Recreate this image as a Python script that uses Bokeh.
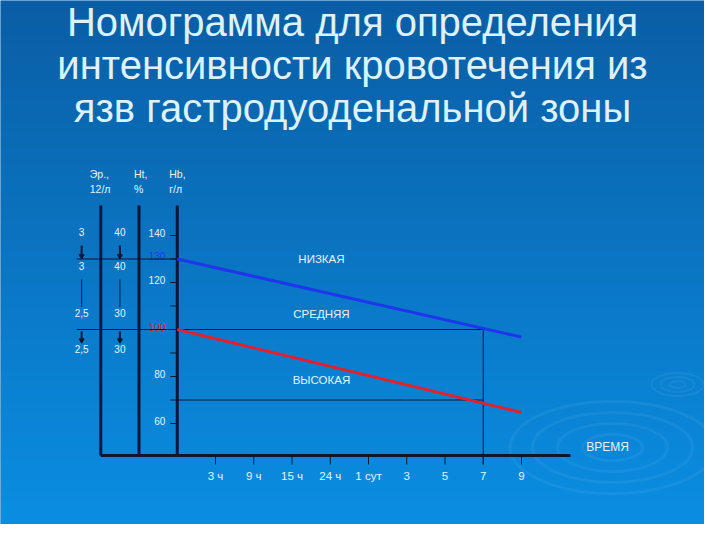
import numpy as np
from bokeh.plotting import figure
from bokeh.models import Range1d
from bokeh.core.properties import value
from bokeh.embed import file_html
from bokeh.resources import INLINE

# ---------------- data ----------------
title_lines = ["Номограмма для определения",
               "интенсивности кровотечения из",
               "язв гастродуоденальной зоны"]
time_labels = ["3 ч", "9 ч", "15 ч", "24 ч", "1 сут", "3", "5", "7", "9"]
time_pos = [0, 1, 2, 3, 4, 5, 6, 7, 8]
hb_ticks = [140, 130, 120, 110, 100, 90, 80, 70, 60]
hb_tick_labels = ["140", "130", "120", "", "100", "", "80", "", "60"]
erythro_labels = ["3", "3", "2,5", "2,5"]
ht_labels = ["40", "40", "30", "30"]
row_hb = [141.3, 127.2, 107.2, 91.5]
header_top = ["Эр.,", "Ht,", "Hb,"]
header_bottom = ["12/л", "%", "г/л"]
zone_labels = ["НИЗКАЯ", "СРЕДНЯЯ", "ВЫСОКАЯ"]
zone_hb = [129.8, 106.4, 78.7]
blue_t = [-1, 8]
blue_hb = [130, 96.8]
red_t = [-1, 8]
red_hb = [100, 64.7]
hb_upper = 130
hb_middle = 100
hb_lower = 70
t_cut = 7
axis_label = "ВРЕМЯ"

# ---------------- layout ----------------
W, H = 704, 524
SX, SY = 38.25, 2.35          # px per time step, px per g/l
X0 = -215 / SX
X1 = (W - 215) / SX
Y1 = 140 + 235 / SY
Y0 = 140 - (H - 235) / SY

TXT = "#E2F4FF"
DARK = "#0A1634"
FONT = value("Liberation Sans")

col_x = [-3, -2, -1]             # Эр, Ht, Hb column axes
hb_top, base_hb = 152.8, 46.4
left_x = -3.63
x_end = 9.28

p = figure(width=W, height=H, output_backend="svg", toolbar_location=None,
           x_range=Range1d(X0, X1), y_range=Range1d(Y0, Y1),
           min_border=0, x_axis_type=None, y_axis_type=None)
p.grid.visible = False
p.outline_line_color = None
p.background_fill_color = "#0B70BE"
p.border_fill_color = "#0B70BE"

# background gradient
N = 256
img = np.empty((N, 1), dtype=np.uint32)
v = img.view(dtype=np.uint8).reshape((N, 1, 4))
top = np.array([0x0B, 0x5E, 0xA5])
bot = np.array([0x0A, 0x8E, 0xE2])
for r in range(N):
    f = r / (N - 1)          # 0 bottom -> 1 top
    c = bot * (1 - f) + top * f
    v[r, 0, 0:3] = c.astype(np.uint8)
    v[r, 0, 3] = 255
p.image_rgba(image=[img], x=X0, y=Y0, dw=X1 - X0, dh=Y1 - Y0)

# ripples
p.ellipse(x=[10.38] * 4, y=[49.8] * 4, width=[60, 110, 160, 205], height=[26, 48, 70, 92],
          width_units="screen", height_units="screen", fill_color=None,
          line_color="#8FD0FF", line_alpha=0.09, line_width=3)
p.ellipse(x=[12.08] * 3, y=[76.6] * 3, width=[16, 34, 52], height=[7, 15, 23],
          width_units="screen", height_units="screen", fill_color=None,
          line_color="#8FD0FF", line_alpha=0.1, line_width=2)

# column axes
p.segment(x0=col_x, y0=[hb_top] * 3, x1=col_x, y1=[base_hb] * 3, line_color=DARK, line_width=3)
# time axis
p.segment(x0=[col_x[0]], y0=[base_hb], x1=[x_end], y1=[base_hb], line_color=DARK, line_width=3)
tick_len = 9 / SY
p.segment(x0=time_pos, y0=[base_hb] * 9, x1=time_pos, y1=[base_hb - tick_len] * 9,
          line_color=DARK, line_width=1)
p.text(x=time_pos, y=[base_hb - 21 / SY] * 9, text=time_labels, text_font=FONT,
       text_font_size="11.5px", text_color=TXT, text_align="center", text_baseline="middle")

# Hb ticks
hb_tick_colors = [TXT, "#2038F0", TXT, TXT, "#E8202A", TXT, TXT, TXT, TXT]
p.segment(x0=[col_x[2] - 7 / SX] * 9, y0=hb_ticks, x1=[col_x[2]] * 9, y1=hb_ticks,
          line_color=DARK, line_width=1)
p.text(x=[col_x[2]] * 9, y=hb_ticks, text=hb_tick_labels, x_offset=-12, y_offset=-3,
       text_font=FONT, text_font_size="10px", text_color=hb_tick_colors,
       text_align="right", text_baseline="middle")

# threshold lines
p.segment(x0=[left_x], y0=[hb_upper], x1=[col_x[2]], y1=[hb_upper], line_color=DARK, line_width=1)
p.segment(x0=[left_x], y0=[hb_middle], x1=[t_cut], y1=[hb_middle], line_color=DARK, line_width=1)
p.segment(x0=[col_x[2]], y0=[hb_lower], x1=[t_cut], y1=[hb_lower], line_color=DARK, line_width=1)
p.segment(x0=[t_cut], y0=[hb_middle], x1=[t_cut], y1=[base_hb - tick_len], line_color=DARK, line_width=1)

# blue and red lines
p.line(blue_t, blue_hb, line_color="#1E36EC", line_width=3)
p.line(red_t, red_hb, line_color="#E3202C", line_width=3)

# Эр / Ht values
ex, hx = -3.5, -2.5
p.text(x=[ex] * 4, y=row_hb, text=erythro_labels, text_font=FONT, text_font_size="10px",
       text_color=TXT, text_align="center", text_baseline="middle")
p.text(x=[hx] * 4, y=row_hb, text=ht_labels, text_font=FONT, text_font_size="10px",
       text_color=TXT, text_align="center", text_baseline="middle")
arr_x = [ex, hx]
p.segment(x0=arr_x, y0=[135.7] * 2, x1=arr_x, y1=[131.0] * 2, line_color=DARK, line_width=2)
p.scatter(x=arr_x, y=[131.2] * 2, marker="inverted_triangle", size=5, color=DARK)
p.segment(x0=arr_x, y0=[121.3] * 2, x1=arr_x, y1=[109.6] * 2, line_color=DARK, line_width=1)
p.segment(x0=arr_x, y0=[99.2] * 2, x1=arr_x, y1=[95.2] * 2, line_color=DARK, line_width=2)
p.scatter(x=arr_x, y=[95.4] * 2, marker="inverted_triangle", size=5, color=DARK)

# column headers
hdr_off = [-11, -5, -8]
p.text(x=col_x, y=[166] * 3, text=header_top, x_offset=hdr_off, text_font=FONT,
       text_font_size="10.5px", text_color=TXT, text_align="left", text_baseline="middle")
p.text(x=col_x, y=[160] * 3, text=header_bottom, x_offset=hdr_off, text_font=FONT,
       text_font_size="10.5px", text_color=TXT, text_align="left", text_baseline="middle")

# zone labels
p.text(x=[2.77] * 3, y=zone_hb, text=zone_labels, text_font=FONT, text_font_size="11.5px",
       text_color=TXT, text_align="center", text_baseline="middle")
p.text(x=[10.25], y=[49.8], text=[axis_label], text_font=FONT, text_font_size="12px",
       text_color=TXT, text_align="center", text_baseline="middle")

# title (three centred lines)
title_x = (X0 + X1) / 2 - 0 / SX
title_y = [231.0, 212.7, 194.4]
p.text(x=[title_x] * 3, y=title_y, text=title_lines, text_font=FONT, text_font_size="40px",
       text_color="#DDF2FF", text_align="center", text_baseline="middle")

open("out.html", "w").write(file_html(p, INLINE))
